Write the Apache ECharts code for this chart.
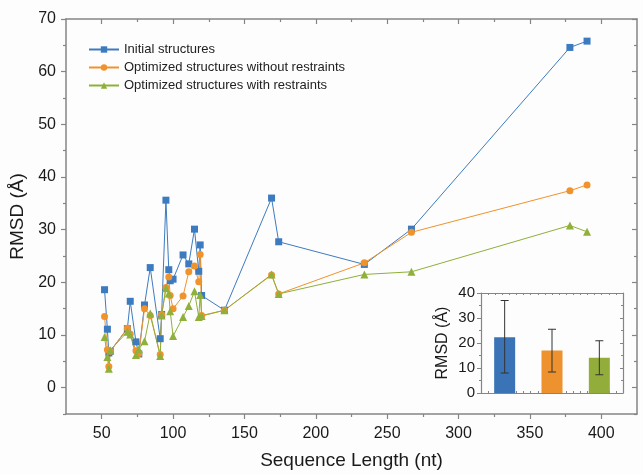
<!DOCTYPE html>
<html>
<head>
<meta charset="utf-8">
<script src="https://cdn.jsdelivr.net/npm/echarts@6/dist/echarts.min.js"></script>
<style>
  html, body { margin: 0; padding: 0; background: #fdfdfd; }
  #chart { width: 643px; height: 475px; }
</style>
</head>
<body>
<div id="chart"></div>
<script>
// sequence length (nt) and RMSD values
const seqLen = [52, 54, 55, 56, 68, 70, 74, 76, 80, 84, 91, 92, 95, 97, 98, 100, 107, 111, 115, 118, 119, 120, 136, 169, 174, 234, 267, 378, 390];
const initial = [18.6, 11.1, 6.6, 6.9, 11.2, 16.4, 8.7, 6.4, 15.7, 22.8, 9.3, 13.9, 35.6, 22.4, 20.3, 20.6, 25.2, 23.5, 30.1, 22.1, 27.1, 17.5, 14.7, 36.0, 27.7, 23.4, 30.1, 64.6, 65.8];
const noRestr = [13.5, 7.2, 4.0, 6.9, 11.3, 10.2, 7.0, 6.5, 15.0, 13.7, 6.3, 13.9, 19.0, 21.0, 17.5, 15.0, 17.4, 22.0, 23.1, 20.1, 25.3, 13.7, 14.7, 21.4, 17.8, 23.7, 29.5, 37.4, 38.5];
const withRestr = [9.6, 5.8, 3.6, 7.1, 10.6, 10.1, 6.2, 7.3, 8.8, 14.1, 6.0, 13.7, 18.9, 17.9, 14.5, 9.8, 13.4, 15.5, 18.3, 13.4, 17.6, 13.6, 14.7, 21.5, 17.8, 21.5, 22.0, 30.8, 29.6];
const seriesNames = ['Initial structures', 'Optimized structures without restraints', 'Optimized structures with restraints'];

// inset: mean RMSD with error range
const insetMean = [22.3, 17.0, 14.1];
const insetLow = [8.0, 8.4, 7.3];
const insetHigh = [37.0, 25.5, 20.9];

// tick labels
const xTicks = [50, 100, 150, 200, 250, 300, 350, 400];
const xMinor = [75, 125, 175, 225, 275, 325, 375];
const yTicks = [0, 10, 20, 30, 40, 50, 60, 70];
const yMinor = [-5, 5, 15, 25, 35, 45, 55, 65];

const colors = ['#3d7bc0', '#f0932c', '#8fb03a'];
const font = "'Liberation Sans', Arial, sans-serif";
const axisGray = '#858585';

const pairs = vals => seqLen.map((x, i) => [x, vals[i]]);

function xAx(pos, ticks, len, inside, extra) {
  return Object.assign({
    type: 'value', gridIndex: 0, position: pos, min: 25, max: 425,
    axisLine: { show: false, onZero: false, lineStyle: { color: axisGray, width: 1.5 } },
    axisTick: { show: true, customValues: ticks, length: len, inside: inside, lineStyle: { color: axisGray, width: 1.2 } },
    axisLabel: { show: false },
    splitLine: { show: false }
  }, extra || {});
}
function yAx(pos, ticks, len, inside, extra) {
  return Object.assign({
    type: 'value', gridIndex: 0, position: pos, min: -5, max: 70,
    axisLine: { show: false, onZero: false, lineStyle: { color: axisGray, width: 1.5 } },
    axisTick: { show: true, customValues: ticks, length: len, inside: inside, lineStyle: { color: axisGray, width: 1.2 } },
    axisLabel: { show: false },
    splitLine: { show: false }
  }, extra || {});
}

const chart = echarts.init(document.getElementById('chart'));
chart.setOption({
  backgroundColor: '#fdfdfd',
  animation: false,
  textStyle: { fontFamily: font },
  grid: [
    { left: 66, top: 19, width: 571, height: 399 },
    { left: 481, top: 293, width: 142, height: 100 }
  ],
  legend: {
    left: 83, top: 38, orient: 'vertical',
    itemWidth: 30, itemHeight: 8, itemGap: 5,
    textStyle: { fontSize: 13, color: '#222', fontFamily: font },
    data: seriesNames
  },
  xAxis: [
    xAx('bottom', xTicks, 5, false, {
      axisLine: { show: true, onZero: false, lineStyle: { color: axisGray, width: 1.5 } },
      axisLabel: { show: true, customValues: xTicks, fontSize: 16, color: '#1a1a1a', margin: 12, fontFamily: font },
      name: 'Sequence Length (nt)', nameLocation: 'middle', nameGap: 37,
      nameTextStyle: { fontSize: 19, color: '#1a1a1a', fontFamily: font }
    }),
    xAx('bottom', xMinor, 3, false),
    xAx('top', xTicks, 5, true, { axisLine: { show: true, onZero: false, lineStyle: { color: axisGray, width: 1.5 } } }),
    xAx('top', xMinor, 3, true),
    // inset axes
    {
      type: 'category', gridIndex: 1, position: 'bottom', data: ['a', 'b', 'c'],
      axisLine: { show: true, onZero: false, lineStyle: { color: axisGray, width: 1.2 } },
      axisTick: { show: false }, axisLabel: { show: false }, splitLine: { show: false }
    },
    {
      type: 'value', gridIndex: 1, position: 'top', min: 0, max: 20, interval: 1,
      axisLine: { show: true, onZero: false, lineStyle: { color: axisGray, width: 1.2 } },
      axisTick: { show: true, inside: true, length: 2, lineStyle: { color: axisGray } },
      axisLabel: { show: false }, splitLine: { show: false }
    },
    {
      type: 'value', gridIndex: 1, position: 'bottom', min: 0, max: 20, interval: 1,
      axisLine: { show: false, onZero: false },
      axisTick: { show: true, inside: true, length: 2, lineStyle: { color: axisGray } },
      axisLabel: { show: false }, splitLine: { show: false }
    }
  ],
  yAxis: [
    yAx('left', yTicks, 5, false, {
      axisLine: { show: true, onZero: false, lineStyle: { color: axisGray, width: 1.5 } },
      axisLabel: { show: true, customValues: yTicks, fontSize: 16, color: '#1a1a1a', margin: 10, fontFamily: font },
      name: 'RMSD (Å)', nameLocation: 'middle', nameGap: 36,
      nameTextStyle: { fontSize: 19, color: '#1a1a1a', fontFamily: font }
    }),
    yAx('left', yMinor, 3, false),
    yAx('right', yTicks, 5, true, { axisLine: { show: true, onZero: false, lineStyle: { color: axisGray, width: 1.5 } } }),
    yAx('right', yMinor, 3, true),
    {
      type: 'value', gridIndex: 1, position: 'left', min: 0, max: 40, interval: 10,
      axisLine: { show: true, onZero: false, lineStyle: { color: axisGray, width: 1.2 } },
      axisTick: { show: true, length: 4, lineStyle: { color: axisGray } },
      minorTick: { show: true, splitNumber: 2, length: 2, lineStyle: { color: axisGray } },
      axisLabel: { fontSize: 15, color: '#1a1a1a', margin: 6, fontFamily: font },
      splitLine: { show: false },
      name: 'RMSD (Å)', nameLocation: 'middle', nameGap: 30,
      nameTextStyle: { fontSize: 16, color: '#1a1a1a', fontFamily: font }
    },
    {
      type: 'value', gridIndex: 1, position: 'right', min: 0, max: 40, interval: 10,
      axisLine: { show: true, onZero: false, lineStyle: { color: axisGray, width: 1.2 } },
      axisTick: { show: true, inside: true, length: 3, lineStyle: { color: axisGray } },
      minorTick: { show: true, splitNumber: 2, length: 2, lineStyle: { color: axisGray } },
      axisLabel: { show: false }, splitLine: { show: false }
    }
  ],
  series: [
    {
      name: seriesNames[0], type: 'line', xAxisIndex: 0, yAxisIndex: 0,
      data: pairs(initial), symbol: 'rect', symbolSize: 7,
      itemStyle: { color: colors[0] }, lineStyle: { width: 1, color: colors[0] }
    },
    {
      name: seriesNames[1], type: 'line', xAxisIndex: 0, yAxisIndex: 0,
      data: pairs(noRestr), symbol: 'circle', symbolSize: 7,
      itemStyle: { color: colors[1] }, lineStyle: { width: 1, color: colors[1] }
    },
    {
      name: seriesNames[2], type: 'line', xAxisIndex: 0, yAxisIndex: 0,
      data: pairs(withRestr), symbol: 'triangle', symbolSize: 8,
      itemStyle: { color: colors[2] }, lineStyle: { width: 1, color: colors[2] }
    },
    {
      type: 'bar', xAxisIndex: 4, yAxisIndex: 4, barWidth: 21,
      data: insetMean.map((v, i) => ({ value: v, itemStyle: { color: ['#3a74b6', '#ee922f', '#93ad3b'][i] } }))
    },
    {
      type: 'custom', xAxisIndex: 4, yAxisIndex: 4, z: 5,
      data: insetMean.map((v, i) => [i, insetLow[i], insetHigh[i]]),
      encode: { x: 0, y: [1, 2] },
      renderItem(params, api) {
        const lo = api.coord([api.value(0), api.value(1)]);
        const hi = api.coord([api.value(0), api.value(2)]);
        const w = 4;
        const st = { stroke: '#333', lineWidth: 1 };
        return {
          type: 'group',
          children: [
            { type: 'line', shape: { x1: hi[0], y1: hi[1], x2: lo[0], y2: lo[1] }, style: st },
            { type: 'line', shape: { x1: hi[0] - w, y1: hi[1], x2: hi[0] + w, y2: hi[1] }, style: st },
            { type: 'line', shape: { x1: lo[0] - w, y1: lo[1], x2: lo[0] + w, y2: lo[1] }, style: st }
          ]
        };
      }
    }
  ]
});
</script>
</body>
</html>
